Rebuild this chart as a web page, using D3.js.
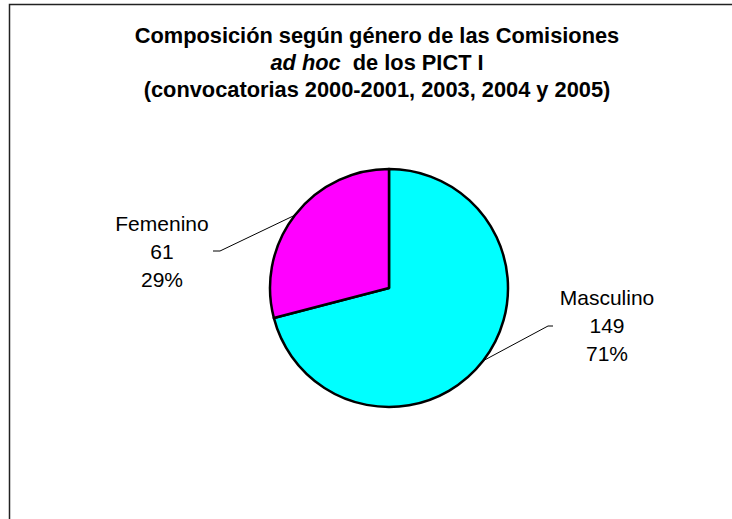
<!DOCTYPE html>
<html>
<head>
<meta charset="utf-8">
<script src="https://cdn.jsdelivr.net/npm/d3@7"></script>
<style>
body{margin:0;background:#fff;}
text{font-family:Arial,"Liberation Sans",sans-serif;}
</style>
</head>
<body>
<div id="chart"></div>
<script>
let categories = ["Masculino","Femenino"];
let values = [149,61];
let percents = ["71%","29%"];
let colors = ["#00FFFF","#FF00FF"];
let titleLines = ["Composición según género de las Comisiones","ad hoc","(convocatorias 2000-2001, 2003, 2004 y 2005)"];

let width = 732, height = 519;
let cx = 389, cy = 288, radius = 119;

let svg = d3.select("#chart")
    .append("svg")
    .attr("width", width)
    .attr("height", height);

svg.append("rect")
    .attr("width", width)
    .attr("height", height)
    .attr("fill", "#fff");

// marco del grafico (sale por la derecha y abajo)
svg.append("rect")
    .attr("x", 9.5).attr("y", 4.5)
    .attr("width", 740).attr("height", 530)
    .attr("fill", "none")
    .attr("stroke", "#222")
    .attr("stroke-width", 1.5);

// titulo
let title = svg.append("g")
    .attr("font-weight", "bold")
    .attr("font-size", "21.8px")
    .attr("text-anchor", "middle");
title.append("text").attr("x", 377).attr("y", 43).text(titleLines[0]);
let t2 = title.append("text").attr("x", 377).attr("y", 70);
t2.append("tspan").attr("font-style", "italic").text(titleLines[1]);
t2.append("tspan").text("\u00a0 de los PICT I");
title.append("text").attr("x", 377).attr("y", 97).text(titleLines[2]);

// torta
let pie = d3.pie().sort(null).value(d => d);
let arc = d3.arc().innerRadius(0).outerRadius(radius);
let arcs = pie(values);

let g = svg.append("g").attr("transform", "translate(" + cx + "," + cy + ")");
g.selectAll("path")
    .data(arcs)
    .enter()
    .append("path")
    .attr("d", arc)
    .attr("fill", (d, i) => colors[i])
    .attr("stroke", "#000")
    .attr("stroke-width", 2.5)
    .attr("stroke-linejoin", "round");

// etiquetas con lineas guia
let labelPos = [
    {x: 607, y: 305, lineEnd: [553, 326], elbow: [548, 326]},
    {x: 162, y: 231, lineEnd: [213, 251], elbow: [220, 251]}
];

arcs.forEach(function(d, i) {
    let p = labelPos[i];
    // punto medio del borde de cada porcion
    let mid = (d.startAngle + d.endAngle) / 2;
    let edge = [cx + radius * Math.sin(mid), cy - radius * Math.cos(mid)];
    svg.append("polyline")
        .attr("points", [edge, p.elbow, p.lineEnd].map(q => q.join(",")).join(" "))
        .attr("fill", "none")
        .attr("stroke", "#000")
        .attr("stroke-width", 1);
    let t = svg.append("text")
        .attr("text-anchor", "middle")
        .attr("font-size", "21px")
        .attr("fill", "#000");
    [categories[i], values[i], percents[i]].forEach(function(s, k) {
        t.append("tspan").attr("x", p.x).attr("y", p.y + k * 28).text(s);
    });
});
</script>
</body>
</html>
